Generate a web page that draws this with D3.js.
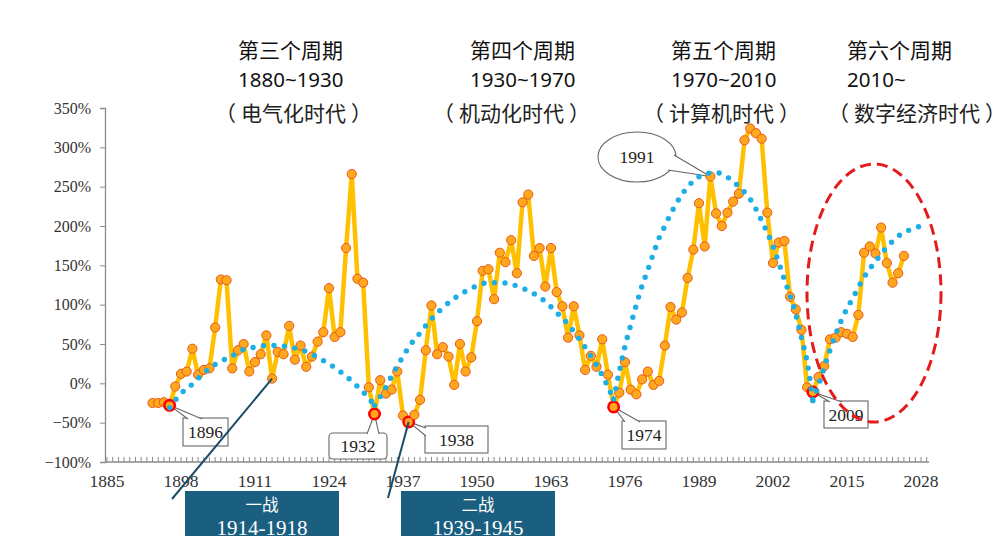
<!DOCTYPE html>
<html><head><meta charset="utf-8">
<script src="https://cdn.jsdelivr.net/npm/d3@7"></script>
<style>html,body{margin:0;padding:0;background:#fff;}svg{display:block;}</style>
</head><body>
<svg id="c" width="1000" height="549"></svg>
<script>
// ---------- data ----------
const startYear = 1893;
const values = [
  -25,-25,-24,-28,-4,12,15,44,11,17,
  19,71,132,131,19,42,50,15,27,37,
  61,6,40,37,73,30,48,21,34,53,
  65,121,59,65,172,266,133,128,-5,-39,
  4,-13,-8,15,-41,-49,-40,-21,42,99,
  37,46,34,-2,50,15,33,79,143,145,
  107,166,154,182,140,230,240,162,172,123,
  172,116,98,58,98,61,17,35,21,56,
  11,-30,-12,27,-8,-14,5,15,-2,3,
  48,97,81,90,134,170,229,174,263,216,
  200,217,231,241,309,324,318,311,217,153,
  179,181,110,94,68,-5,-11,8,22,56,
  58,65,63,59,87,166,174,165,198,153,
  128,140,162
];
const highlightYears = [1896, 1932, 1938, 1974, 2009];
// long-wave trend, one array per wave
const trendWave1 = [[1896,-31],[1898,-13],[1900,-1],[1902,13],[1904,24],[1907,35],[1909,43],[1911,46],[1913,48],[1915,48],[1917,46],[1919,43],[1921,37],[1923,29],[1925,20],[1927,9],[1929,-4],[1931,-19],[1932,-28]];
const trendWave2 = [[1932,-28],[1933,-17],[1934,-5],[1935,9],[1936,22],[1937,34],[1938,46],[1940,64],[1942,82],[1944,96],[1946,108],[1948,117],[1950,124],[1952,128],[1954,128],[1956,126],[1958,121],[1960,114],[1962,104],[1964,90],[1966,75],[1968,56],[1970,35],[1972,10],[1974,-20]];
const trendWave3 = [[1974,-20],[1975,15],[1976,47],[1977,74],[1978,100],[1979,124],[1980,144],[1981,165],[1982,185],[1983,200],[1984,215],[1986,240],[1988,257],[1990,266],[1992,268],[1994,262],[1996,250],[1998,234],[2000,207],[2002,174],[2004,132],[2006,88],[2007,58],[2008,27],[2009,-22]];
const trendWave4 = [[2009,-22],[2010,-2],[2011,20],[2012,42],[2013,62],[2014,80],[2015,95],[2016,108],[2018,135],[2020,155],[2022,173],[2024,187],[2026,195],[2028,200]];
const yTicks = [-100,-50,0,50,100,150,200,250,300,350];
const xTickLabels = [1885,1898,1911,1924,1937,1950,1963,1976,1989,2002,2015,2028];
const cycleTitles = ["第三个周期","第四个周期","第五个周期","第六个周期"];
const cycleRanges = ["1880~1930","1930~1970","1970~2010","2010~"];
const cycleEras = ["电气化时代","机动化时代","计算机时代","数字经济时代"];
const warNames = ["一战","二战"];
const warRanges = ["1914-1918","1939-1945"];
const warLinkYears = [1914, 1938];

const data = values.map((v,i)=>({year:startYear+i, v}));

// ---------- scales ----------
const svg = d3.select("#c");
const x = d3.scaleLinear().domain([1885,2028]).range([107,921]);
const y = d3.scaleLinear().domain([-100,350]).range([462,108]);
const axisColor = "#8a8a8a";
const serif = "'Liberation Serif','DejaVu Serif',serif";
const cjk = "'Noto Sans CJK SC','Noto Sans',sans-serif";

// y axis
const yAxis = svg.append("g").attr("transform","translate(105,0)")
  .call(d3.axisLeft(y).tickValues(yTicks).tickSize(5).tickPadding(9).tickFormat(d=>(d<0?"−":"")+Math.abs(d)+"%"));
yAxis.select(".domain").attr("stroke",axisColor).attr("stroke-width",1.3);
yAxis.selectAll(".tick line").attr("stroke",axisColor);
yAxis.selectAll("text").attr("font-family",serif).attr("font-size",16).attr("fill","#333");

// x axis: yearly minor ticks pointing up
const xAxisG = svg.append("g").attr("transform","translate(0,462)");
xAxisG.append("line").attr("x1",105).attr("x2",929).attr("stroke",axisColor).attr("stroke-width",1.3);
xAxisG.selectAll("line.t").data(d3.range(1885,2030)).join("line").attr("class","t")
  .attr("x1",d=>x(d)).attr("x2",d=>x(d)).attr("y1",0).attr("y2",-5).attr("stroke",axisColor).attr("stroke-width",1);
xAxisG.selectAll("text").data(xTickLabels).join("text")
  .attr("x",d=>x(d)).attr("y",25).attr("text-anchor","middle")
  .attr("font-family",serif).attr("font-size",17.5).attr("fill","#333").text(d=>d);

// ---------- cycle headers ----------
const titleX = [238,470,671,847];
const eraX = [222,440,650,835];
cycleTitles.forEach((t,i)=>{
  svg.append("text").attr("x",titleX[i]).attr("y",58).attr("font-family",cjk).attr("font-size",21).attr("fill","#111").text(t);
  svg.append("text").attr("x",titleX[i]).attr("y",87).attr("font-family","'Noto Sans',sans-serif").attr("font-size",20.5).attr("fill","#111").text(cycleRanges[i]);
  const et = svg.append("text").attr("x",eraX[i]).attr("y",121).attr("font-family",cjk).attr("font-size",21).attr("fill","#222");
  et.append("tspan").attr("dx",-7).text("（");
  et.append("tspan").attr("dx",5).text(cycleEras[i]);
  et.append("tspan").attr("dx",5).text("）");
});

// ---------- callouts (drawn under the series) ----------
const callG = svg.append("g");
function callout(year, shape, label, base1, base2){
  const d = data.find(e=>e.year===year);
  const tip = [x(d.year), y(d.v)];
  if(shape.type==="ellipse"){
    callG.append("ellipse").attr("cx",shape.cx).attr("cy",shape.cy).attr("rx",shape.rx).attr("ry",shape.ry)
      .attr("fill","#fff").attr("stroke","#666").attr("stroke-width",1.1);
  } else {
    callG.append("rect").attr("x",shape.x).attr("y",shape.y).attr("width",shape.w).attr("height",shape.h)
      .attr("rx",shape.r||0).attr("fill","#fff").attr("stroke","#666").attr("stroke-width",1.1);
  }
  callG.append("path").attr("d",d3.line()([base1,tip,base2])).attr("fill","#fff").attr("stroke","none");
  callG.append("path").attr("d",d3.line()([base1,tip,base2])).attr("fill","none").attr("stroke","#666").attr("stroke-width",1.1);
  const cx = shape.type==="ellipse"?shape.cx:shape.x+shape.w/2;
  const cy = shape.type==="ellipse"?shape.cy:shape.y+shape.h/2;
  callG.append("text").attr("x",cx).attr("y",cy+6).attr("text-anchor","middle")
    .attr("font-family",serif).attr("font-size",17.5).attr("fill","#222").text(label);
}
callout(1896,{x:183,y:418,w:45,h:28},"1896",[188,419],[202,419]);
callout(1932,{x:329,y:433,w:58,h:26,r:4},"1932",[367,434],[379,434]);
callout(1938,{x:425,y:426,w:63,h:27},"1938",[426,428],[426,436]);
callout(1974,{x:622,y:421,w:44,h:28},"1974",[625,422],[640,422]);
callout(2009,{x:824,y:401,w:44,h:27},"2009",[830,402],[842,402]);
callout(1991,{type:"ellipse",cx:637,cy:157,rx:39,ry:25},"1991",[674,155],[668,170]);

// ---------- series ----------
svg.append("path").datum(data)
  .attr("d",d3.line().x(d=>x(d.year)).y(d=>y(d.v)))
  .attr("fill","none").attr("stroke","#FFC000").attr("stroke-width",4.5).attr("stroke-linejoin","round");
svg.append("g").selectAll("circle").data(data).join("circle")
  .attr("cx",d=>x(d.year)).attr("cy",d=>y(d.v))
  .attr("r",d=>highlightYears.includes(d.year)?5.2:4.6)
  .attr("fill","#FFA81E")
  .attr("stroke",d=>highlightYears.includes(d.year)?"#FF0000":"#E8581C")
  .attr("stroke-width",d=>highlightYears.includes(d.year)?2.6:1);

// trend (dotted)
const tline = d3.line().x(d=>x(d[0])).y(d=>y(d[1])).curve(d3.curveMonotoneX);
[trendWave1,trendWave2,trendWave3,trendWave4].forEach(w=>{
  svg.append("path").attr("d",tline(w)).attr("fill","none")
    .attr("stroke","#1CAEE4").attr("stroke-width",5.4).attr("stroke-linecap","round").attr("stroke-dasharray","0 10.5");
});

// ---------- war annotations ----------
const warBoxX = [185,401];
warLinkYears.forEach((yr,i)=>{
  const d = data.find(e=>e.year===yr);
  const bottom = i===0?[172,499]:[388,498];
  svg.append("line").attr("x1",bottom[0]).attr("y1",bottom[1]).attr("x2",x(d.year)).attr("y2",y(d.v))
    .attr("stroke","#1B4D69").attr("stroke-width",2);
});
warNames.forEach((n,i)=>{
  const g = svg.append("g");
  g.append("rect").attr("x",warBoxX[i]).attr("y",491).attr("width",154).attr("height",45).attr("fill","#1A5E80");
  g.append("text").attr("x",warBoxX[i]+77).attr("y",511).attr("text-anchor","middle").attr("font-family",cjk).attr("font-size",16.5).attr("fill","#fff").text(n);
  g.append("text").attr("x",warBoxX[i]+77).attr("y",535).attr("text-anchor","middle").attr("font-family",serif).attr("font-size",21).attr("fill","#fff").text(warRanges[i]);
});

// red dashed ellipse around the sixth cycle
svg.append("ellipse").attr("cx",874).attr("cy",293).attr("rx",67).attr("ry",129)
  .attr("fill","none").attr("stroke","#E31B1B").attr("stroke-width",3).attr("stroke-dasharray","11 6");
</script>
</body></html>
